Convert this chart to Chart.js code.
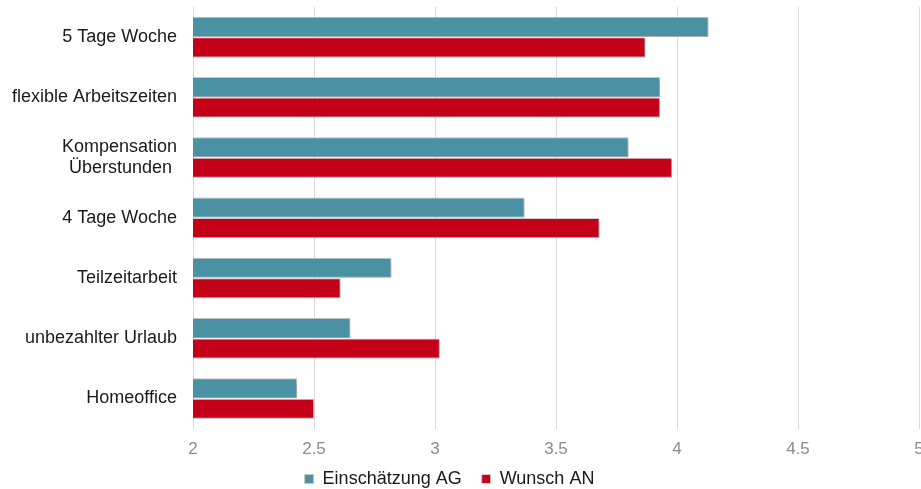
<!DOCTYPE html>
<html>
<head>
<meta charset="utf-8">
<script src="https://cdn.jsdelivr.net/npm/chart.js@4/dist/chart.umd.min.js"></script>
<style>
  html, body { margin: 0; padding: 0; background: #ffffff; }
  #wrap { width: 921px; height: 489px; }
</style>
</head>
<body>
<div id="wrap"><canvas id="chart" width="921" height="489"></canvas></div>
<script>
// Work-time models: employer estimate vs. employee wish (mean rating)
const categories = [
  "5 Tage Woche",
  "flexible Arbeitszeiten",
  ["Kompensation", "Überstunden "],
  "4 Tage Woche",
  "Teilzeitarbeit",
  "unbezahlter Urlaub",
  "Homeoffice"
];
const einschaetzungAG = [4.13, 3.93, 3.80, 3.37, 2.82, 2.65, 2.43];
const wunschAN        = [3.87, 3.93, 3.98, 3.68, 2.61, 3.02, 2.50];
const xTicks = [2, 2.5, 3, 3.5, 4, 4.5, 5];

const FONT = "'Liberation Sans', Arial, sans-serif";

// soft drop shadow under the bars
const barShadow = {
  id: 'barShadow',
  beforeDatasetsDraw(chart) {
    const c = chart.ctx;
    c.save();
    c.shadowColor = 'rgba(0,0,0,0.28)';
    c.shadowBlur = 3;
    c.shadowOffsetX = 1.5;
    c.shadowOffsetY = 1.5;
  },
  afterDatasetsDraw(chart) {
    chart.ctx.restore();
  }
};

// tuck the legend row a little closer to the axis labels
const legendNudge = {
  id: 'legendNudge',
  afterLayout(chart) {
    const l = chart.legend;
    if (!l) return;
    l.top -= 9; l.bottom -= 9;
    l.left -= 10; l.right -= 10;
  }
};

new Chart(document.getElementById('chart'), {
  type: 'bar',
  data: {
    labels: categories,
    datasets: [
      {
        label: 'Einschätzung AG',
        data: einschaetzungAG,
        backgroundColor: '#4a91a3',
        borderColor: '#c8c8c8',
        borderWidth: 1,
        categoryPercentage: 0.68,
        barPercentage: 0.98
      },
      {
        label: 'Wunsch AN',
        data: wunschAN,
        backgroundColor: '#c50019',
        borderColor: '#d0d0d0',
        borderWidth: 1,
        categoryPercentage: 0.68,
        barPercentage: 0.98
      }
    ]
  },
  options: {
    indexAxis: 'y',
    responsive: false,
    animation: false,
    layout: { padding: { top: 7, right: 2, bottom: -18, left: 0 } },
    scales: {
      x: {
        min: 2,
        max: 5,
        afterBuildTicks(scale) {
          scale.ticks = xTicks.map(v => ({ value: v }));
        },
        afterFit(scale) {
          scale.paddingLeft = 0;
          scale.paddingRight = 0;
          scale.height -= 12;
        },
        grid: { color: '#d9d9d9', lineWidth: 1, drawTicks: false },
        border: { display: false },
        ticks: {
          color: '#8c8c8c',
          font: { family: FONT, size: 17 },
          padding: 11,
          maxRotation: 0,
          callback: v => String(v)
        }
      },
      y: {
        grid: { display: false, drawTicks: false },
        border: { display: true, color: '#d9d9d9' },
        afterFit(scale) {
          scale.width = 193;
          scale.paddingTop = 0;
          scale.paddingBottom = 0;
        },
        ticks: {
          color: '#1a1a1a',
          font: { family: FONT, size: 18, lineHeight: 1.18 },
          padding: 16,
          crossAlign: 'near'
        }
      }
    },
    plugins: {
      legend: {
        position: 'bottom',
        labels: {
          color: '#1a1a1a',
          font: { family: FONT, size: 18 },
          boxWidth: 9,
          boxHeight: 9,
          padding: 20,
          useBorderRadius: false
        }
      },
      tooltip: { enabled: false }
    }
  },
  plugins: [barShadow, legendNudge]
});
</script>
</body>
</html>
